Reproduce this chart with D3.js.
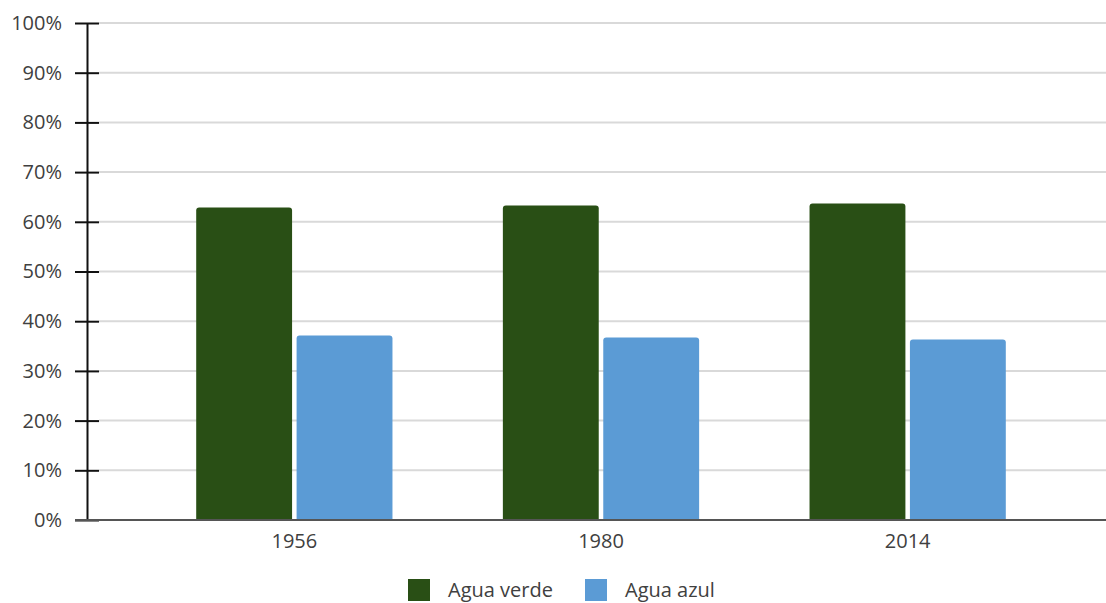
<!DOCTYPE html>
<html><head><meta charset="utf-8">
<script src="https://cdn.jsdelivr.net/npm/d3@7"></script>
<style>body{margin:0;background:#fff}svg{display:block}text{font-family:"Open Sans",sans-serif}</style>
</head><body><svg id="c" width="1106" height="603"></svg>
<script>
const categories = ["1956", "1980", "2014"];
const seriesNames = ["Agua verde", "Agua azul"];
const aguaVerde = [62.9, 63.3, 63.7];
const aguaAzul = [37.1, 36.7, 36.3];
const yTicks = [0, 10, 20, 30, 40, 50, 60, 70, 80, 90, 100];
const colors = ["#294f15", "#5b9bd5"];

const svg = d3.select("#c");
const y = d3.scaleLinear().domain([0, 100]).range([520, 23]);
const x0 = d3.scaleBand().domain(categories).range([141, 1061]).padding(0);
const bw = x0.bandwidth();
const x1 = d3.scaleBand().domain(seriesNames).range([bw * 0.18, bw * 0.82]).paddingInner(0.045);

// gridlines
svg.append("g").selectAll("line").data(yTicks.filter(d => d > 0)).join("line")
  .attr("x1", 99).attr("x2", 1106).attr("y1", d => y(d)).attr("y2", d => y(d))
  .attr("stroke", "#d9d9d9").attr("stroke-width", 2);

// bars
const data = categories.map((c, i) => ({c, vals: [aguaVerde[i], aguaAzul[i]]}));
const r = 3;
const g = svg.append("g");
data.forEach(d => {
  d.vals.forEach((v, j) => {
    const xs = x0(d.c) + x1(seriesNames[j]);
    const w = x1.bandwidth();
    const top = y(v), bot = y(0);
    g.append("path")
      .attr("d", `M${xs},${bot}V${top + r}Q${xs},${top} ${xs + r},${top}H${xs + w - r}Q${xs + w},${top} ${xs + w},${top + r}V${bot}Z`)
      .attr("fill", colors[j]);
  });
});

// y axis
const yAxis = d3.axisLeft(y).tickValues(yTicks).tickFormat(d => d + "%").tickSizeInner(12).tickSizeOuter(0).tickPadding(13);
const ya = svg.append("g").attr("transform", "translate(87,0)").call(yAxis);
ya.select(".domain").attr("stroke", "#111").attr("stroke-width", 2);
ya.selectAll(".tick line").attr("stroke", "#111").attr("stroke-width", 2).attr("x2", 12).attr("x1", -12);
ya.selectAll(".tick text").attr("font-size", 20).attr("fill", "#404040").attr("font-family", "Open Sans");

// x axis line
svg.append("line").attr("x1", 75).attr("x2", 1106).attr("y1", y(0)).attr("y2", y(0))
  .attr("stroke", "#555").attr("stroke-width", 2);
// x labels
const xAxis = d3.axisBottom(x0).tickSize(0).tickPadding(14);
const xa = svg.append("g").attr("transform", `translate(0,${y(0)})`).call(xAxis);
xa.select(".domain").remove();
xa.selectAll(".tick text").attr("font-size", 20).attr("fill", "#404040").attr("font-family", "Open Sans");

// legend
const legX = [408, 585];
const leg = svg.append("g");
seriesNames.forEach((s, j) => {
  leg.append("rect").attr("x", legX[j]).attr("y", 579).attr("width", 22).attr("height", 22).attr("fill", colors[j]);
  leg.append("text").attr("x", legX[j] + 40).attr("y", 590).attr("dy", "0.35em")
    .attr("font-size", 20).attr("fill", "#404040").text(s);
});
</script></body></html>
